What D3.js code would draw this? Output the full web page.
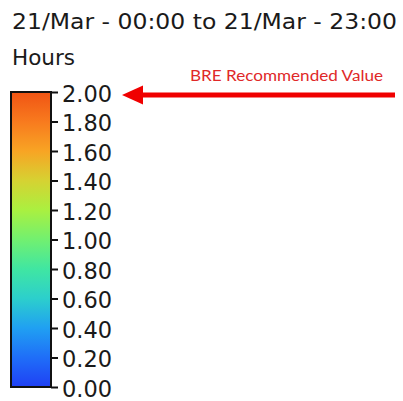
<!DOCTYPE html>
<html>
<head>
<meta charset="utf-8">
<script src="https://d3js.org/d3.v7.min.js"></script>
<style>
	body { margin: 0; background: #fff; }
	svg { display: block; }
	.tick text { font-family: "DejaVu Sans", sans-serif; fill: #1a1a1a; }
</style>
</head>
<body>
<svg id="legend" width="403" height="401"></svg>
<script>
// colour bar data
const STOP_VALUES = [0.0, 0.2, 0.4, 0.6, 0.8, 1.0, 1.2, 1.4, 1.6, 1.8, 2.0];
const STOP_COLORS = ['#1f40f4', '#1f6ef8', '#20a0f2', '#2ccfcc', '#40e6a2', '#72f070', '#aaf040', '#d6d232', '#f8a424', '#f87a1e', '#f05414'];
const TICK_VALUES = [0.0, 0.2, 0.4, 0.6, 0.8, 1.0, 1.2, 1.4, 1.6, 1.8, 2.0];
const TITLE = '21/Mar - 00:00 to 21/Mar - 23:00';
const UNIT = 'Hours';
const NOTE = 'BRE Recommended Value';
const NOTE_VALUE = 2.0;

const svg = d3.select('#legend');

const bar_x = 11, bar_w = 40;
const y = d3.scaleLinear()
	.domain([0, 2])
	.range([387, 92]);

// gradient
const grad = svg.append('defs').append('linearGradient')
	.attr('id', 'cbar')
	.attr('x1', 0).attr('y1', 1)
	.attr('x2', 0).attr('y2', 0);
grad.selectAll('stop')
	.data(STOP_VALUES)
	.enter()
	.append('stop')
		.attr('offset', d => d / 2)
		.attr('stop-color', (d, i) => STOP_COLORS[i]);

svg.append('rect')
	.attr('x', bar_x)
	.attr('y', y(2))
	.attr('width', bar_w)
	.attr('height', y(0) - y(2))
	.attr('fill', 'url(#cbar)')
	.attr('stroke', '#111')
	.attr('stroke-width', 2);

// axis on the right side of the bar
const axis = d3.axisRight(y)
	.tickValues(TICK_VALUES)
	.tickSize(7)
	.tickPadding(4)
	.tickFormat(d3.format('.2f'));

const ax = svg.append('g')
	.attr('transform', `translate(${bar_x + bar_w},0)`)
	.call(axis);
ax.select('.domain').remove();
ax.selectAll('.tick line').attr('stroke', '#111').attr('stroke-width', 2);
ax.selectAll('.tick text')
	.attr('font-size', 22.5)
	.attr('dy', '0.42em');

// titles
svg.append('text')
	.attr('x', 12).attr('y', 29)
	.attr('font-family', 'DejaVu Sans, sans-serif')
	.attr('font-size', 20.5)
	.attr('fill', '#1a1a1a')
	.attr('textLength', 385)
	.attr('lengthAdjust', 'spacingAndGlyphs')
	.text(TITLE);

svg.append('text')
	.attr('x', 12).attr('y', 65)
	.attr('font-family', 'DejaVu Sans, sans-serif')
	.attr('font-size', 21.5)
	.attr('fill', '#1a1a1a')
	.text(UNIT);

// annotation arrow
const ay = y(NOTE_VALUE) + 3;
svg.append('line')
	.attr('x1', 395).attr('y1', ay)
	.attr('x2', 138).attr('y2', ay)
	.attr('stroke', '#f00000')
	.attr('stroke-width', 5);
svg.append('path')
	.attr('d', `M122,${ay} L143,${ay - 9.5} L143,${ay + 9.5} Z`)
	.attr('fill', '#f00000');

svg.append('text')
	.attr('x', 190).attr('y', 80.5)
	.attr('font-family', 'Lato, "Open Sans", sans-serif')
	.attr('font-size', 15.5)
	.attr('fill', '#e02828')
	.attr('textLength', 193)
	.attr('lengthAdjust', 'spacingAndGlyphs')
	.text(NOTE);
</script>
</body>
</html>
